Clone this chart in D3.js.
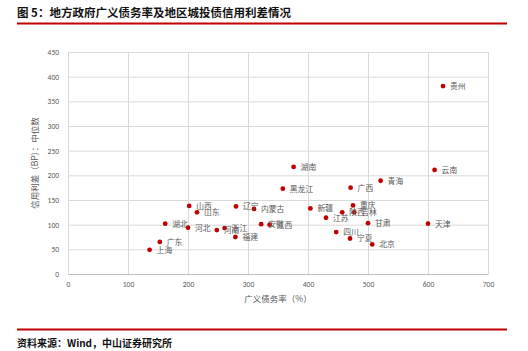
<!DOCTYPE html>
<html>
<head>
<meta charset="utf-8">
<script src="https://cdn.jsdelivr.net/npm/d3@7"></script>
<style>
  body { margin: 0; background: #fff; }
  svg { font-family: "Noto Sans CJK SC", "Noto Sans", sans-serif; }
</style>
</head>
<body>
<div id="container"></div>
<script>
/* CONSTANTS AND GLOBALS */
const width = 528, height = 351
const margin = { top: 52, bottom: 77, left: 68, right: 40 }

/* DATA */
const provinces = ["贵州", "云南", "青海", "广西", "湖南", "黑龙江", "山西", "山东", "辽宁", "内蒙古",
  "新疆", "重庆", "陕西", "吉林", "江苏", "湖北", "河北", "河南", "浙江", "安徽",
  "江西", "甘肃", "天津", "四川", "宁夏", "福建", "北京", "广东", "上海"]
const debtRatio = [625, 611, 521, 471, 376, 358, 202, 215, 280, 310,
  404, 475, 457, 477, 430, 162, 200, 248, 261, 322,
  336, 500, 600, 447, 470, 279, 507, 153, 136]
const spread = [381, 211, 189, 175, 217, 173, 138, 125, 137, 132,
  133, 139, 125, 125, 114, 102, 94, 89, 93, 101,
  100, 103, 102, 85, 72, 75, 60, 65, 49]
const xTicks = [0, 100, 200, 300, 400, 500, 600, 700]
const yTicks = [0, 50, 100, 150, 200, 250, 300, 350, 400, 450]

const data = provinces.map((p, i) => ({ name: p, x: debtRatio[i], y: spread[i] }))

/* SCALES */
const xScale = d3.scaleLinear().domain([0, 700]).range([margin.left, width - margin.right])
const yScale = d3.scaleLinear().domain([0, 450]).range([height - margin.bottom, margin.top])

const svg = d3.select("#container").append("svg")
  .attr("width", width)
  .attr("height", height)

// title + red rules
svg.append("text")
  .attr("x", 17).attr("y", 17)
  .style("font-size", "11.5px").style("font-weight", "bold").style("fill", "#111")
  .text("图 5：地方政府广义债务率及地区城投债信用利差情况")
svg.append("line")
  .attr("x1", 17).attr("x2", 507).attr("y1", 23.5).attr("y2", 23.5)
  .style("stroke", "#c00000").style("stroke-width", 2)
svg.append("line")
  .attr("x1", 17).attr("x2", 507).attr("y1", 329.5).attr("y2", 329.5)
  .style("stroke", "#c00000").style("stroke-width", 2)
svg.append("text")
  .attr("x", 17).attr("y", 347)
  .style("font-size", "10px").style("font-weight", "bold").style("fill", "#111")
  .text("资料来源：Wind，中山证券研究所")

// grid
svg.append("g")
  .selectAll("line.v")
  .data(xTicks)
  .join("line")
  .attr("x1", d => xScale(d) + 0.5).attr("x2", d => xScale(d) + 0.5)
  .attr("y1", yScale(450)).attr("y2", yScale(0))
  .style("stroke", "#d9d9d9").style("stroke-width", 1)
svg.append("g")
  .selectAll("line.h")
  .data(yTicks)
  .join("line")
  .attr("x1", xScale(0)).attr("x2", xScale(700))
  .attr("y1", d => yScale(d) + 0.5).attr("y2", d => yScale(d) + 0.5)
  .style("stroke", "#d9d9d9").style("stroke-width", 1)

// axes
const xAxis = d3.axisBottom(xScale).tickValues(xTicks).tickSize(0).tickPadding(8)
const yAxis = d3.axisLeft(yScale).tickValues(yTicks).tickSize(0).tickPadding(9)

svg.append("g")
  .attr("transform", `translate(0,${height - margin.bottom})`)
  .call(xAxis)
  .call(g => g.select(".domain").style("stroke", "#bfbfbf"))
  .call(g => g.selectAll("text").style("font-size", "7.5px").style("fill", "#595959").style("font-family", "Calibri, 'Liberation Sans', sans-serif"))

svg.append("g")
  .attr("transform", `translate(${margin.left},0)`)
  .call(yAxis)
  .call(g => g.select(".domain").remove())
  .call(g => g.selectAll("text").style("font-size", "7.5px").style("fill", "#595959").style("font-family", "Calibri, 'Liberation Sans', sans-serif"))

// axis titles
svg.append("text")
  .attr("x", (xScale(0) + xScale(700)) / 2).attr("y", 302)
  .attr("text-anchor", "middle")
  .style("font-size", "8.5px").style("fill", "#595959")
  .text("广义债务率（%）")
svg.append("text")
  .attr("transform", `translate(38,${(yScale(0) + yScale(450)) / 2}) rotate(-90)`)
  .attr("text-anchor", "middle")
  .style("font-size", "8.5px").style("fill", "#595959")
  .text("信用利差（BP）：中位数")

// points
svg.selectAll("circle.prov")
  .data(data, d => d.name)
  .join("circle")
  .attr("class", "prov")
  .attr("cx", d => xScale(d.x))
  .attr("cy", d => yScale(d.y))
  .attr("r", 2.4)
  .style("fill", "#c00000")

svg.selectAll("text.lbl")
  .data(data, d => d.name)
  .join("text")
  .attr("class", "lbl")
  .attr("x", d => xScale(d.x) + 7)
  .attr("y", d => yScale(d.y) + 3)
  .style("font-size", "7.8px")
  .style("fill", "#595959")
  .text(d => d.name)
</script>
</body>
</html>
